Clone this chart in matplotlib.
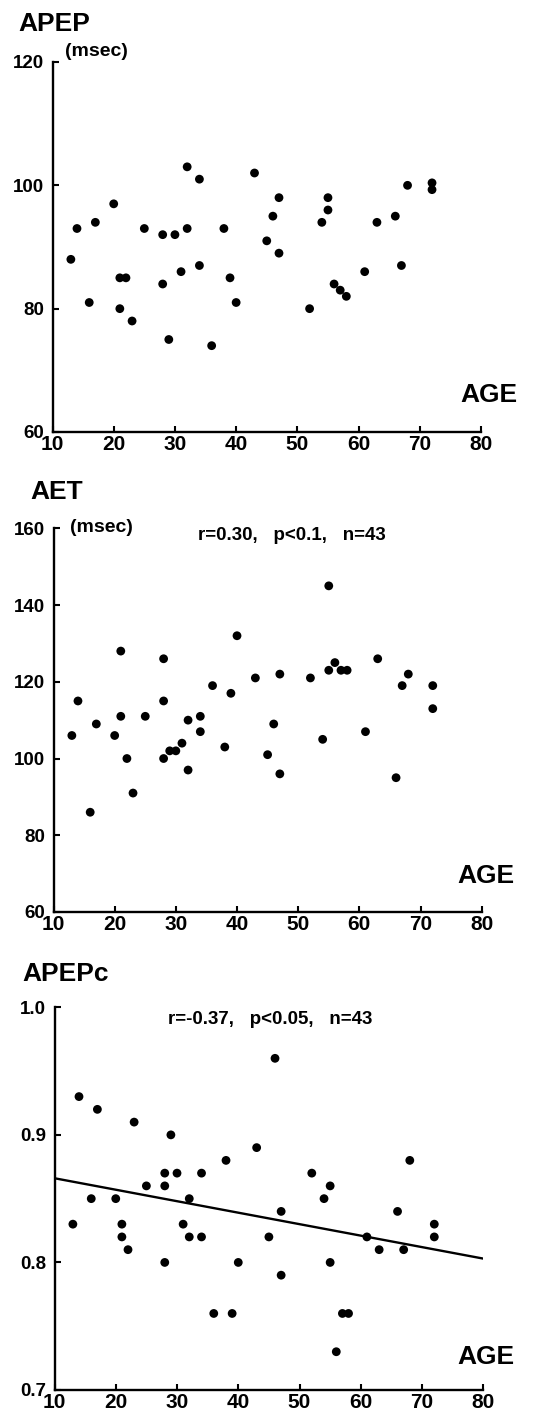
import matplotlib
matplotlib.use("Agg")
import matplotlib.pyplot as plt
import numpy as np

# ---- data ----
age_apep = [14, 17, 20, 25, 28, 30, 32, 32, 34, 38, 43, 45, 46, 47, 54, 55, 55, 63, 66, 68, 72, 72,
            13, 16, 21, 22, 21, 23, 28, 29, 31, 34, 36, 39, 40, 52, 56, 57, 58, 61, 67, 47]
apep = [93, 94, 97, 93, 92, 92, 93, 103, 101, 93, 102, 91, 95, 98, 94, 98, 96, 94, 95, 100, 100.4, 99.3,
        88, 81, 85, 85, 80, 78, 84, 75, 86, 87, 74, 85, 81, 80, 84, 83, 82, 86, 87, 89]

age_aet = [55, 40, 21, 28, 14, 28, 36, 39, 43, 47, 52, 55, 56, 57, 58, 63, 67, 68, 72, 72,
           13, 17, 20, 21, 25, 16, 22, 23, 28, 29, 30, 31, 32, 32, 34, 34, 38, 45, 46, 47, 54, 61, 66]
aet = [145, 132, 128, 126, 115, 115, 119, 117, 121, 122, 121, 123, 125, 123, 123, 126, 119, 122, 119, 113,
       106, 109, 106, 111, 111, 86, 100, 91, 100, 102, 102, 104, 110, 97, 111, 107, 103, 101, 109, 96, 105, 107, 95]

age_apepc = [46, 14, 17, 23, 29, 43, 38, 68, 28, 30, 34, 52, 25, 28, 16, 20, 32, 54, 55, 13, 21, 31,
             72, 21, 32, 34, 45, 61, 72, 22, 63, 67, 47, 66, 28, 40, 55, 47, 36, 39, 57, 58, 56]
apepc = [0.96, 0.93, 0.92, 0.91, 0.90, 0.89, 0.88, 0.88, 0.87, 0.87, 0.87, 0.87, 0.86, 0.86, 0.85, 0.85,
         0.85, 0.85, 0.86, 0.83, 0.83, 0.83, 0.83, 0.82, 0.82, 0.82, 0.82, 0.82, 0.82, 0.81, 0.81, 0.81,
         0.84, 0.84, 0.80, 0.80, 0.80, 0.79, 0.76, 0.76, 0.76, 0.76, 0.73]

# regression line drawn on the APEPc panel
fit_intercept = 0.875
fit_slope = -0.0009

age_ticks = [10, 20, 30, 40, 50, 60, 70, 80]
apep_ticks = [60, 80, 100, 120]
aet_ticks = [60, 80, 100, 120, 140, 160]
apepc_ticks = [0.7, 0.8, 0.9, 1.0]
apepc_ticklabels = ["0.7", "0.8", "0.9", "1.0"]

W, H = 537, 1421
plt.rcParams["font.family"] = ["Liberation Sans", "DejaVu Sans"]
plt.rcParams["font.weight"] = "bold"

fig = plt.figure(figsize=(W / 100, H / 100), dpi=100)


def px_axes(left, top, right, bottom):
    return fig.add_axes([left / W, 1 - bottom / H, (right - left) / W, (bottom - top) / H])


def ftext(x, y, s, **kw):
    fig.text(x / W, 1 - y / H, s, fontweight="bold", **kw)


def style(ax, yticks, ylim, yticklabels=None):
    ax.set_xlim(10, 80)
    ax.set_ylim(*ylim)
    ax.set_xticks(age_ticks)
    ax.set_yticks(yticks)
    if yticklabels is not None:
        ax.set_yticklabels(yticklabels)
    for side in ("top", "right"):
        ax.spines[side].set_visible(False)
    for side in ("left", "bottom"):
        ax.spines[side].set_linewidth(1.7)
    ax.tick_params(axis="both", direction="in", length=4, width=1.5)
    ax.tick_params(axis="x", labelsize=15, pad=2)
    ax.tick_params(axis="y", labelsize=13.5, pad=6)
    for lab in ax.get_xticklabels() + ax.get_yticklabels():
        lab.set_fontweight("bold")
    ax.patch.set_visible(False)


dot = dict(s=40, color="black", edgecolors="none", zorder=3, clip_on=False)

# panel 1: APEP
ax1 = px_axes(52.5, 62, 481, 432)
ax1.scatter(age_apep, apep, **dot)
style(ax1, apep_ticks, (60, 120))
ftext(18, 24, "APEP", fontsize=19, va="center", ha="left")
ftext(65, 51, "(msec)", fontsize=14, va="center", ha="left")
ftext(517, 395, "AGE", fontsize=19, va="center", ha="right")

# panel 2: AET
ax2 = px_axes(53.5, 528.3, 481.7, 912)
ax2.scatter(age_aet, aet, **dot)
style(ax2, aet_ticks, (60, 160))
ftext(30, 492, "AET", fontsize=19, va="center", ha="left")
ftext(70, 528, "(msec)", fontsize=14, va="center", ha="left")
ftext(292, 536, "r=0.30,   p<0.1,   n=43", fontsize=13.5, va="center", ha="center")
ftext(514, 876, "AGE", fontsize=19, va="center", ha="right")

# panel 3: APEPc
ax3 = px_axes(54.5, 1007.3, 483.3, 1390)
ax3.scatter(age_apepc, apepc, **dot)
line_x = np.array([10, 80])
ax3.plot(line_x, fit_intercept + fit_slope * line_x, color="black", linewidth=1.7, zorder=2)
style(ax3, apepc_ticks, (0.7, 1.0), apepc_ticklabels)
ftext(22, 974, "APEPc", fontsize=19, va="center", ha="left")
ftext(270, 1020, "r=-0.37,   p<0.05,   n=43", fontsize=13.5, va="center", ha="center")
ftext(514, 1357, "AGE", fontsize=19, va="center", ha="right")

fig.savefig("out.png", dpi=100, facecolor="white")
plt.close(fig)
